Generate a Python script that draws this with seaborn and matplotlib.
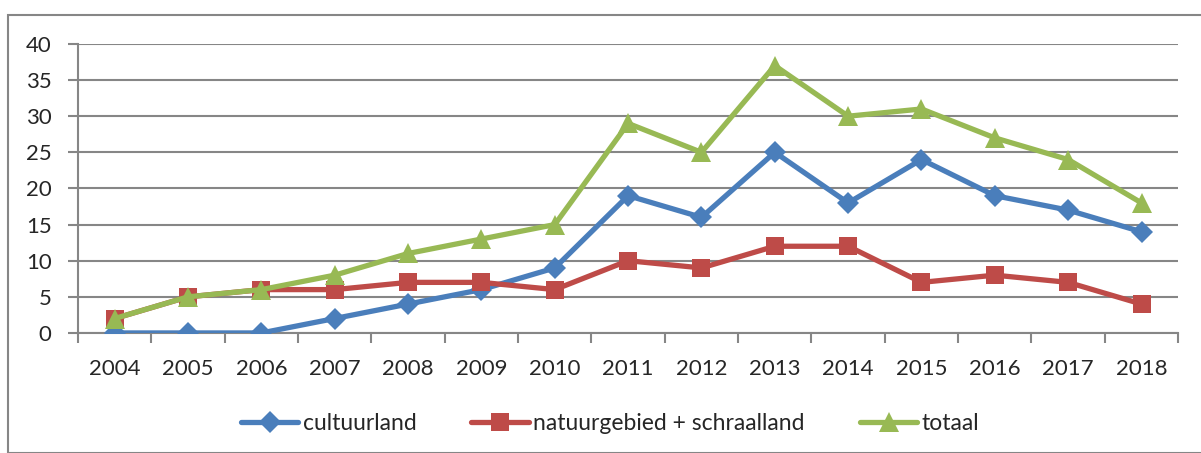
import numpy as np
import pandas as pd
import seaborn as sns
import matplotlib.pyplot as plt
from matplotlib.patches import Rectangle
from matplotlib.lines import Line2D

sns.set_theme(style="white")
plt.rcParams["font.family"] = ["Lato", "DejaVu Sans"]

years = list(range(2004, 2019))
cultuurland = [0, 0, 0, 2, 4, 6, 9, 19, 16, 25, 18, 24, 19, 17, 14]
natuurgebied = [2, 5, 6, 6, 7, 7, 6, 10, 9, 12, 12, 7, 8, 7, 4]
totaal = [2, 5, 6, 8, 11, 13, 15, 29, 25, 37, 30, 31, 27, 24, 18]

names = ["cultuurland", "natuurgebied + schraalland", "totaal"]
colors = ["#4A7EBB", "#BE4B48", "#98B954"]
markers = ["D", "s", "^"]
msizes = [11, 13, 14]

df = pd.DataFrame({
    "jaar": years * 3,
    "waarde": cultuurland + natuurgebied + totaal,
    "reeks": [names[0]] * 15 + [names[1]] * 15 + [names[2]] * 15,
})

fig = plt.figure(figsize=(12.01, 4.53), dpi=100)
ax = fig.add_axes([0.065, 0.265, 0.916, 0.638])

for name, c, m, ms in zip(names, colors, markers, msizes):
    sns.lineplot(data=df[df["reeks"] == name], x="jaar", y="waarde", ax=ax,
                 color=c, marker=m, markersize=ms, markeredgewidth=0,
                 linewidth=3.8, legend=False, zorder=3)

grid_c = "#868686"
fs = 16
ax.set_xlim(2003.5, 2018.5)
ax.set_ylim(0, 40)
ax.set_yticks(range(0, 41, 5))
ax.yaxis.grid(True, color=grid_c, linewidth=1.5)
ax.set_axisbelow(True)

ax.set_xticks(np.arange(2003.5, 2019, 1))
ax.set_xticklabels([])
ax.set_xticks(years, minor=True)
ax.set_xticklabels([str(y) for y in years], minor=True, fontsize=fs)
ax.tick_params(axis="x", which="major", length=7, width=1.5, color=grid_c,
               direction="out", bottom=True)
ax.tick_params(axis="x", which="minor", length=0, pad=19)
ax.tick_params(axis="y", length=7, width=1.5, color=grid_c, direction="out",
               left=True, labelsize=fs, pad=12)

for s in ["top", "right"]:
    ax.spines[s].set_visible(False)
for s in ["left", "bottom"]:
    ax.spines[s].set_color(grid_c)
    ax.spines[s].set_linewidth(1.5)
ax.set_xlabel("")
ax.set_ylabel("")

handles = [Line2D([0], [0], color=c, marker=m, markersize=ms, markeredgewidth=0,
                  linewidth=3.8) for c, m, ms in zip(colors, markers, msizes)]
fig.legend(handles, names, loc="center", bbox_to_anchor=(0.508, 0.066), ncol=3,
           frameon=False, fontsize=16.5, handlelength=2.5, handletextpad=0.2,
           columnspacing=2.4)

fig.patches.append(Rectangle((8 / 1201, 0), 1, 1 - 15 / 453, transform=fig.transFigure,
                             fill=False, edgecolor=grid_c, linewidth=1.5))

fig.savefig("out.png", dpi=100)
